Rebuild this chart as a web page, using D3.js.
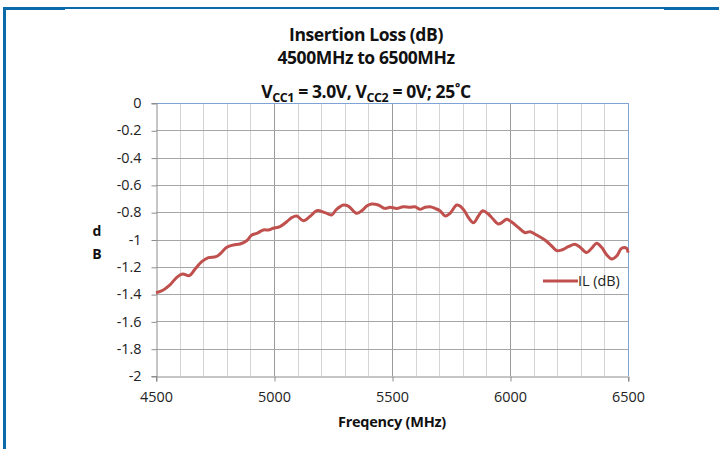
<!DOCTYPE html>
<html><head><meta charset="utf-8">
<script src="https://cdn.jsdelivr.net/npm/d3@7/dist/d3.min.js"></script>
<style>body{margin:0;background:#fff}svg{display:block}</style>
</head><body><svg id="c" width="719" height="449"></svg>
<script>
const freqs = [4500,4531,4559,4588,4613,4641,4665,4694,4722,4754,4771,4800,4828,4856,4884,4906,4927,4955,4976,4997,5025,5054,5075,5096,5124,5153,5181,5216,5244,5265,5294,5315,5350,5372,5393,5414,5442,5470,5492,5520,5548,5576,5597,5619,5640,5661,5682,5703,5725,5746,5774,5788,5809,5823,5845,5866,5884,5908,5929,5950,5965,5986,6007,6035,6064,6085,6113,6148,6177,6198,6219,6247,6275,6297,6325,6346,6367,6388,6410,6431,6452,6473,6494,6500];
const ilValues = [-1.39,-1.37,-1.333,-1.277,-1.253,-1.265,-1.218,-1.162,-1.133,-1.126,-1.106,-1.057,-1.04,-1.033,-1.009,-0.967,-0.955,-0.93,-0.93,-0.918,-0.906,-0.87,-0.84,-0.828,-0.862,-0.83,-0.789,-0.803,-0.82,-0.779,-0.747,-0.755,-0.808,-0.789,-0.755,-0.74,-0.747,-0.772,-0.764,-0.772,-0.76,-0.764,-0.76,-0.779,-0.764,-0.76,-0.772,-0.789,-0.828,-0.808,-0.747,-0.755,-0.796,-0.837,-0.877,-0.828,-0.789,-0.813,-0.852,-0.886,-0.877,-0.852,-0.872,-0.911,-0.95,-0.943,-0.967,-1.004,-1.048,-1.082,-1.077,-1.053,-1.035,-1.057,-1.096,-1.064,-1.028,-1.057,-1.113,-1.143,-1.121,-1.064,-1.064,-1.096];
const xTicks = [4500,5000,5500,6000,6500];
const xMinor = d3.range(4500,6501,100);
const yTicks = [0,-0.2,-0.4,-0.6,-0.8,-1,-1.2,-1.4,-1.6,-1.8,-2];
const seriesName = "IL (dB)";

const svg = d3.select("#c");
const font = "'Open Sans', Calibri, sans-serif";
const L=156,R=628,T=103,B=376;
const x = d3.scaleLinear().domain([4500,6500]).range([L,R]);
const y = d3.scaleLinear().domain([-2,0]).range([B,T]);

// frame
const fc="#0b6aa9";
svg.append("rect").attr("x",3).attr("y",7).attr("width",3).attr("height",442).attr("fill",fc);
svg.append("rect").attr("x",3).attr("y",7).attr("width",62).attr("height",3).attr("fill",fc);
svg.append("rect").attr("x",64).attr("y",7).attr("width",601).attr("height",2).attr("fill",fc);
svg.append("rect").attr("x",664).attr("y",7).attr("width",55).attr("height",3).attr("fill",fc);

// gridlines
const g = svg.append("g");
g.selectAll(".vm").data(xMinor.filter(d=>d%500!==0)).enter().append("line")
 .attr("x1",d=>Math.round(x(d))+0.5).attr("x2",d=>Math.round(x(d))+0.5).attr("y1",T).attr("y2",B)
 .attr("stroke","#d4d4d4").attr("stroke-width",1);
g.selectAll(".vM").data(xTicks.slice(1,-1)).enter().append("line")
 .attr("x1",d=>Math.round(x(d))+0.5).attr("x2",d=>Math.round(x(d))+0.5).attr("y1",T).attr("y2",B)
 .attr("stroke","#9a9a9a").attr("stroke-width",1);
g.selectAll(".h").data(yTicks.slice(1,-1)).enter().append("line")
 .attr("x1",L).attr("x2",R).attr("y1",d=>Math.round(y(d))+0.5).attr("y2",d=>Math.round(y(d))+0.5)
 .attr("stroke","#a6a6a6").attr("stroke-width",1);
// plot area border (top / right)
svg.append("line").attr("x1",L).attr("x2",R+0.5).attr("y1",T+0.5).attr("y2",T+0.5).attr("stroke","#7fa3d6");
svg.append("line").attr("x1",R+0.5).attr("x2",R+0.5).attr("y1",T).attr("y2",B).attr("stroke","#7fa3d6");

// axes
const xa = svg.append("g").attr("transform",`translate(0,${B+0.5})`)
 .call(d3.axisBottom(x).tickValues(xTicks).tickSize(5).tickPadding(10).tickFormat(d3.format("d")));
const ya = svg.append("g").attr("transform",`translate(${L+0.5},0)`)
 .call(d3.axisLeft(y).tickValues(yTicks).tickSize(5).tickPadding(10).tickFormat(d=>d===0?"0":String(d)));
[xa,ya].forEach(a=>{
  a.select(".domain").attr("stroke","#8c8c8c");
  a.selectAll(".tick line").attr("stroke","#8c8c8c");
  a.selectAll("text").attr("font-family",font).attr("font-size",14.4).attr("fill","#222");
});
xa.selectAll(".tick line").attr("transform","translate(0.5,0)");
ya.selectAll(".tick line").attr("transform","translate(0,0.5)");

// line
const data = freqs.map((f,i)=>({f, v: ilValues[i]}));
svg.append("path").datum(data)
 .attr("d", d3.line().x(d=>x(d.f)).y(d=>y(d.v)).curve(d3.curveCatmullRom.alpha(0.5)))
 .attr("fill","none").attr("stroke","#c0504d").attr("stroke-width",3).attr("stroke-linejoin","round");

// titles
const tf = "'Open Sans', sans-serif";
svg.append("text").attr("x",366).attr("y",41).attr("text-anchor","middle").attr("font-family",tf)
 .attr("font-weight","bold").attr("font-size",17.5).attr("fill","#111").attr("letter-spacing",-0.4).text("Insertion Loss (dB)");
svg.append("text").attr("x",366).attr("y",64).attr("text-anchor","middle").attr("font-family",tf)
 .attr("font-weight","bold").attr("font-size",17.5).attr("fill","#111").attr("letter-spacing",-0.4).text("4500MHz to 6500MHz");
const t3 = svg.append("text").attr("x",366).attr("y",98).attr("text-anchor","middle").attr("font-family",tf)
 .attr("font-weight","bold").attr("font-size",17.5).attr("fill","#111").attr("letter-spacing",-0.4);
t3.append("tspan").text("V");
t3.append("tspan").attr("font-size",12.5).attr("dy",4).text("CC1");
t3.append("tspan").attr("dy",-4).text(" = 3.0V, V");
t3.append("tspan").attr("font-size",12.5).attr("dy",4).text("CC2");
t3.append("tspan").attr("dy",-4).text(" = 0V; 25˚C");

svg.append("text").attr("x",392).attr("y",427).attr("text-anchor","middle").attr("font-family",tf)
 .attr("font-weight","bold").attr("font-size",14.5).attr("fill","#111").attr("letter-spacing",-0.25).text("Freqency (MHz)");
svg.append("text").attr("x",97).attr("y",236).attr("text-anchor","middle").attr("font-family",tf)
 .attr("font-weight","bold").attr("font-size",14).attr("fill","#111").text("d");
svg.append("text").attr("x",97).attr("y",259).attr("text-anchor","middle").attr("font-family",tf)
 .attr("font-weight","bold").attr("font-size",14).attr("fill","#111").text("B");

// legend
svg.append("line").attr("x1",543).attr("x2",578).attr("y1",281).attr("y2",281).attr("stroke","#c0504d").attr("stroke-width",3);
svg.append("text").attr("x",578).attr("y",286).attr("font-family",font).attr("font-size",14.4).attr("fill","#222").text(seriesName);
</script></body></html>
